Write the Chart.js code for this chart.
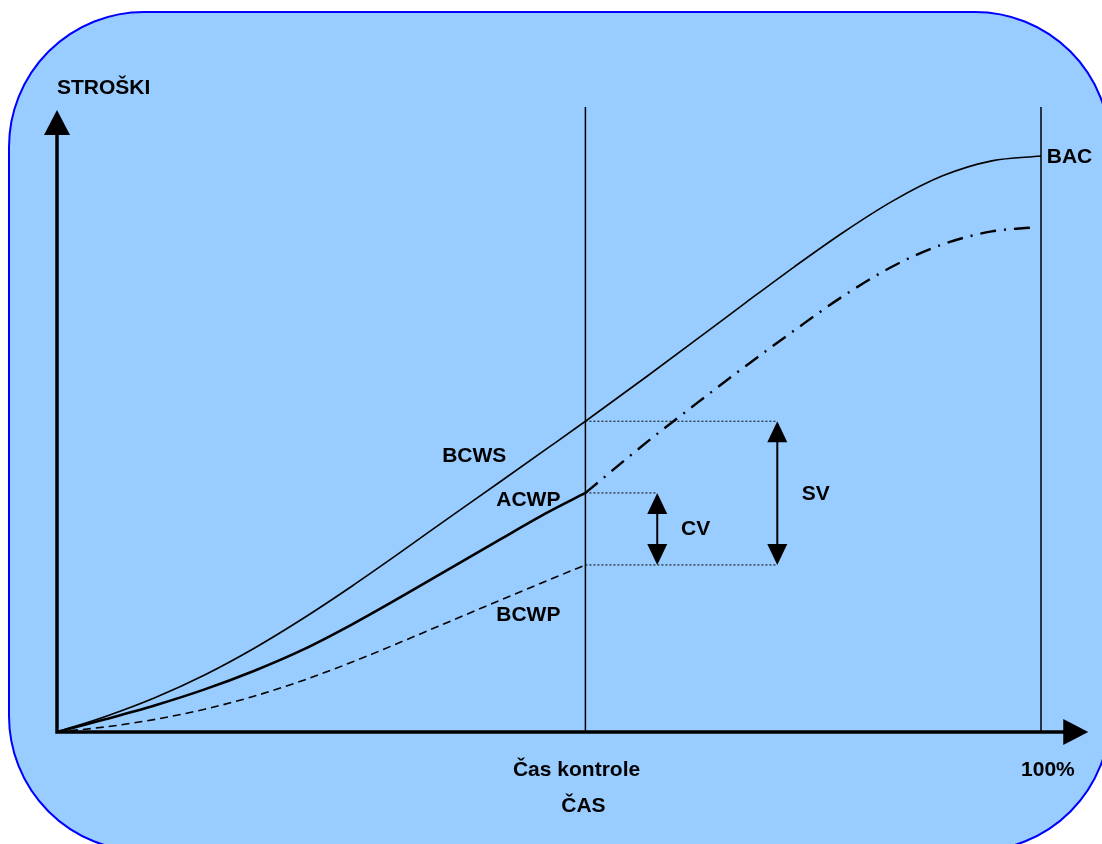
<!DOCTYPE html>
<html>
<head>
<meta charset="utf-8">
<script src="https://cdn.jsdelivr.net/npm/chart.js@4/dist/chart.umd.min.js"></script>
<style>
  html, body { margin: 0; padding: 0; background: #fff; }
  canvas { display: block; }
</style>
</head>
<body>
<canvas id="evaChart" width="1102" height="844"></canvas>
<script>
// time axis: 0 = start, 100 = project end (100%)
const casKontrole = 53.7;
const casKonec = 100;

// BCWS - planned value
const casBCWS = [0, 5, 10, 15, 20, 25, 30, 35, 40, 45, 50, 53.7, 60, 65, 70, 75, 80, 85, 90, 95, 100];
const bcws    = [0, 2.75, 6.0, 9.9, 14.5, 19.7, 25.35, 31.3, 37.4, 43.4, 49.45, 53.95, 61.8, 68.15, 74.55, 80.85, 86.85, 92.25, 96.55, 99.15, 100];

// ACWP - actual cost up to control date
const casACWP = [0, 5, 10, 15, 20, 25, 30, 35, 40, 45, 50, 53.7];
const acwp    = [0, 2.25, 4.65, 7.4, 10.6, 14.3, 18.7, 23.5, 28.45, 33.4, 38.25, 41.5];

// ACWP forecast after control date
const casNapoved = [53.7, 60, 65, 70, 75, 80, 85, 90, 95, 99.2];
const napoved    = [41.5, 50.4, 57.05, 63.55, 69.8, 75.8, 80.9, 84.65, 86.9, 87.6];

// BCWP - earned value
const casBCWP = [0, 5, 10, 15, 20, 25, 30, 35, 40, 45, 50, 53.7];
const bcwp    = [0, 0.9, 2.2, 3.95, 6.2, 8.95, 12.15, 15.65, 19.25, 22.85, 26.4, 29.0];

const casCV = 61.0;
const casSV = 73.2;
const yVrh = 108.5;

const pts = (xs, ys) => xs.map((x, i) => ({ x: x, y: ys[i] }));

const vBCWS = bcws[casBCWS.indexOf(casKontrole)];
const vACWP = acwp[acwp.length - 1];
const vBCWP = bcwp[bcwp.length - 1];

const font = 'bold 21px "Liberation Sans", Arial, sans-serif';

const labels = [
    ['STROŠKI', 0, 111.8, 'left'],
    ['BCWS', 42.4, 47.9, 'center'],
    ['ACWP', 47.9, 40.3, 'center'],
    ['BCWP', 47.9, 20.3, 'center'],
    ['CV', 64.9, 35.2, 'center'],
    ['SV', 77.1, 41.3, 'center'],
    ['BAC', 102.9, 99.7, 'center'],
    ['Čas kontrole', 52.8, -6.6, 'center'],
    ['ČAS', 53.5, -12.8, 'center'],
    ['100%', 100.7, -6.6, 'center']
];

function roundRect(ctx, x, y, w, h, r) {
    ctx.beginPath();
    ctx.moveTo(x + r, y);
    ctx.lineTo(x + w - r, y);
    ctx.arcTo(x + w, y, x + w, y + r, r);
    ctx.lineTo(x + w, y + h - r);
    ctx.arcTo(x + w, y + h, x + w - r, y + h, r);
    ctx.lineTo(x + r, y + h);
    ctx.arcTo(x, y + h, x, y + h - r, r);
    ctx.lineTo(x, y + r);
    ctx.arcTo(x, y, x + r, y, r);
    ctx.closePath();
}

function tri(ctx, ax, ay, bx, by, cx, cy) {
    ctx.beginPath();
    ctx.moveTo(ax, ay);
    ctx.lineTo(bx, by);
    ctx.lineTo(cx, cy);
    ctx.closePath();
    ctx.fill();
}

function doubleArrow(ctx, x, yTop, yBot) {
    ctx.lineWidth = 2;
    ctx.beginPath();
    ctx.moveTo(x, yTop + 10);
    ctx.lineTo(x, yBot - 10);
    ctx.stroke();
    tri(ctx, x, yTop, x - 10, yTop + 21, x + 10, yTop + 21);
    tri(ctx, x, yBot, x - 10, yBot - 21, x + 10, yBot - 21);
}

const backdrop = {
    id: 'backdrop',
    beforeDraw(chart) {
        const ctx = chart.ctx;
        ctx.save();
        ctx.fillStyle = '#ffffff';
        ctx.fillRect(0, 0, chart.width, chart.height);
        roundRect(ctx, 9, 12, 1101, 839, 135);
        ctx.fillStyle = '#99ccff';
        ctx.fill();
        ctx.strokeStyle = '#0000ff';
        ctx.lineWidth = 2;
        ctx.stroke();
        ctx.restore();
    }
};

const overlay = {
    id: 'overlay',
    afterDatasetsDraw(chart) {
        const ctx = chart.ctx;
        const xs = chart.scales.x, ys = chart.scales.y;
        const x0 = xs.getPixelForValue(0), y0 = ys.getPixelForValue(0);
        ctx.save();
        ctx.strokeStyle = '#000';
        ctx.fillStyle = '#000';
        // axes
        ctx.lineWidth = 3.5;
        ctx.beginPath();
        ctx.moveTo(x0, ys.getPixelForValue(yVrh) + 20);
        ctx.lineTo(x0, y0);
        ctx.lineTo(xs.getPixelForValue(104.8) - 20, y0);
        ctx.stroke();
        const yTip = ys.getPixelForValue(yVrh) + 3;
        tri(ctx, x0, yTip, x0 - 13, yTip + 25, x0 + 13, yTip + 25);
        const xTip = xs.getPixelForValue(104.8);
        tri(ctx, xTip, y0, xTip - 25, y0 - 13, xTip - 25, y0 + 13);

        // CV and SV arrows
        doubleArrow(ctx, xs.getPixelForValue(casCV), ys.getPixelForValue(vACWP), ys.getPixelForValue(vBCWP));
        doubleArrow(ctx, xs.getPixelForValue(casSV), ys.getPixelForValue(vBCWS), ys.getPixelForValue(vBCWP));

        // texts
        ctx.font = font;
        ctx.textBaseline = 'middle';
        labels.forEach(([t, x, y, a]) => {
            ctx.textAlign = a;
            ctx.fillText(t, xs.getPixelForValue(x), ys.getPixelForValue(y));
        });
        ctx.restore();
    }
};

const base = { pointRadius: 0, borderColor: '#000', fill: false, clip: false };

new Chart(document.getElementById('evaChart'), {
    type: 'line',
    data: {
        datasets: [
            { ...base, label: 'BCWS', data: pts(casBCWS, bcws), borderWidth: 1.6, cubicInterpolationMode: 'monotone' },
            { ...base, label: 'ACWP', data: pts(casACWP, acwp), borderWidth: 2.6, cubicInterpolationMode: 'monotone' },
            { ...base, label: 'ACWP napoved', data: pts(casNapoved, napoved), borderWidth: 2.4, borderDash: [16, 8, 2, 8], cubicInterpolationMode: 'monotone' },
            { ...base, label: 'BCWP', data: pts(casBCWP, bcwp), borderWidth: 1.6, borderDash: [8, 5], cubicInterpolationMode: 'monotone' },
            { ...base, label: 'kontrola', data: [{ x: casKontrole, y: 0 }, { x: casKontrole, y: yVrh }], borderWidth: 1.5 },
            { ...base, label: 'konec', data: [{ x: casKonec, y: 0 }, { x: casKonec, y: yVrh }], borderWidth: 1.5 },
            { ...base, label: 'g1', data: [{ x: casKontrole, y: vBCWS }, { x: casSV, y: vBCWS }], borderWidth: 1, borderDash: [2, 2] },
            { ...base, label: 'g2', data: [{ x: casKontrole, y: vACWP }, { x: casCV, y: vACWP }], borderWidth: 1, borderDash: [2, 2] },
            { ...base, label: 'g3', data: [{ x: casKontrole, y: vBCWP }, { x: casSV, y: vBCWP }], borderWidth: 1, borderDash: [2, 2] }
        ]
    },
    options: {
        responsive: false,
        animation: false,
        layout: { padding: { left: 57, right: 61, top: 107, bottom: 112 } },
        plugins: { legend: { display: false }, tooltip: { enabled: false } },
        scales: {
            x: { type: 'linear', min: 0, max: 100, display: false },
            y: { type: 'linear', min: 0, max: yVrh, display: false }
        }
    },
    plugins: [backdrop, overlay]
});
</script>
</body>
</html>
